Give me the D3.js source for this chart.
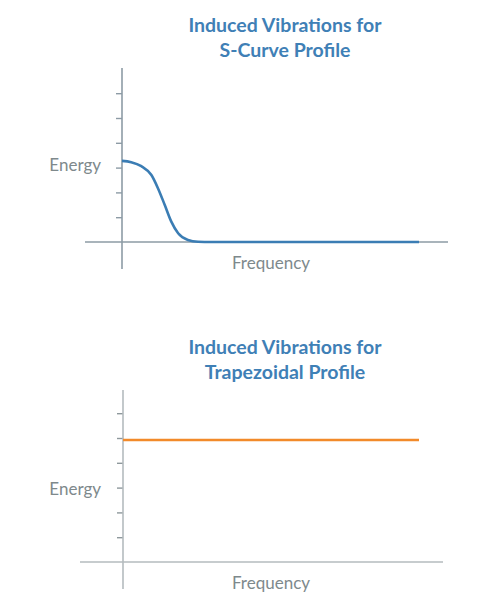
<!DOCTYPE html>
<html>
<head>
<meta charset="utf-8">
<script src="https://cdn.jsdelivr.net/npm/d3@7"></script>
<style>
  body { margin: 0; background: #fff; }
  text { font-family: Lato, "Open Sans", sans-serif; }
</style>
</head>
<body>
<div id="grafico"></div>
<script>
// dados (frequencia 0..100, energia em unidades de tick)
const sCurveFreq   = [0, 3.1, 6.5, 9.9, 12.1, 14.4, 16.6, 18.9, 22.2, 25.6, 30, 50, 75, 100];
const sCurveEnergy = [3.27, 3.22, 3.06, 2.70, 2.17, 1.49, 0.82, 0.35, 0.08, 0.01, 0, 0, 0, 0];
const trapFreq   = [0, 100];
const trapEnergy = [4.92, 4.92];
const yTicks = [1, 2, 3, 4, 5, 6];
const titulos = [
    ["Induced Vibrations for", "S-Curve Profile"],
    ["Induced Vibrations for", "Trapezoidal Profile"]
];
const rotuloY = "Energy";
const rotuloX = "Frequency";

const width = 500;
const height = 609;

const svg = d3.select("#grafico")
    .append("svg")
    .attr("width", width)
    .attr("height", height);

function desenharPainel(cfg) {
    const g = svg.append("g");

    const x = d3.scaleLinear().domain([0, 100]).range([cfg.x0, 419]);
    const y = d3.scaleLinear().domain([0, 7]).range([cfg.base, cfg.base - 7 * 24.8]);

    // titulo
    cfg.titulo.forEach((linha, i) => {
        g.append("text")
            .attr("x", 285)
            .attr("y", cfg.tituloY + i * 25.5)
            .attr("text-anchor", "middle")
            .attr("dominant-baseline", "middle")
            .style("font-size", "19.5px")
            .style("font-weight", "bold")
            .style("fill", "#3f80b6")
            .text(linha);
    });

    // eixo x
    g.append("line")
        .attr("x1", cfg.xEixoIni).attr("x2", cfg.xEixoFim)
        .attr("y1", y(0)).attr("y2", y(0))
        .style("stroke", cfg.corEixo)
        .style("stroke-width", 1.6);

    // eixo y com ticks
    const eixoY = d3.axisLeft(y)
        .tickValues(yTicks)
        .tickSize(6)
        .tickFormat("");
    const gy = g.append("g")
        .attr("transform", `translate(${x(0)},0)`)
        .call(eixoY);
    gy.select(".domain").remove();
    gy.selectAll(".tick line")
        .style("stroke", cfg.corTick)
        .style("stroke-width", 1.4);

    g.append("line")
        .attr("x1", x(0)).attr("x2", x(0))
        .attr("y1", cfg.yTopo).attr("y2", cfg.base + 27)
        .style("stroke", cfg.corEixo)
        .style("stroke-width", 1.6);

    // serie
    const linha = d3.line()
        .x(d => x(d[0]))
        .y(d => y(d[1]))
        .curve(d3.curveMonotoneX);
    g.append("path")
        .datum(d3.zip(cfg.freq, cfg.energia))
        .attr("d", linha)
        .style("fill", "none")
        .style("stroke", cfg.cor)
        .style("stroke-width", cfg.larguraLinha);

    // rotulos
    g.append("text")
        .attr("x", 101)
        .attr("y", cfg.energiaY)
        .attr("text-anchor", "end")
        .attr("dominant-baseline", "middle")
        .style("font-size", "17px")
        .style("fill", "#7e898c")
        .text(rotuloY);

    g.append("text")
        .attr("x", 271)
        .attr("y", cfg.base + 23)
        .attr("text-anchor", "middle")
        .attr("dominant-baseline", "middle")
        .style("font-size", "17px")
        .style("fill", "#7e898c")
        .text(rotuloX);
}

desenharPainel({
    titulo: titulos[0], tituloY: 26.5,
    x0: 122, base: 242, yTopo: 68,
    xEixoIni: 85, xEixoFim: 448,
    corEixo: "#8d9ba5", corTick: "#8d9ba5",
    freq: sCurveFreq, energia: sCurveEnergy,
    cor: "#3b7db4", larguraLinha: 2.6,
    energiaY: 166.5
});

desenharPainel({
    titulo: titulos[1], tituloY: 348.5,
    x0: 123, base: 562, yTopo: 390,
    xEixoIni: 80, xEixoFim: 443,
    corEixo: "#b4bbbe", corTick: "#8e989c",
    freq: trapFreq, energia: trapEnergy,
    cor: "#f28a2a", larguraLinha: 2.6,
    energiaY: 490.5
});
</script>
</body>
</html>
